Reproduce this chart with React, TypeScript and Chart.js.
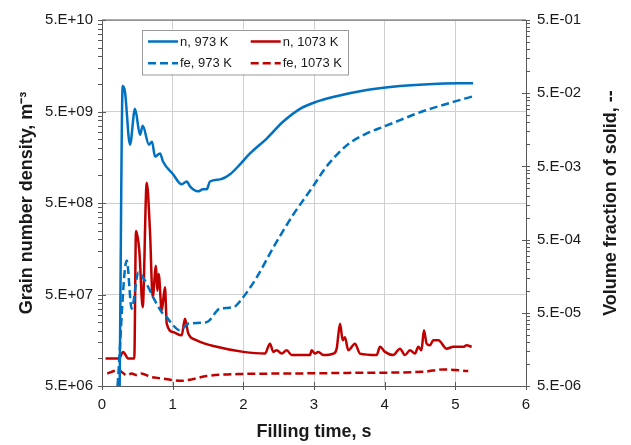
import { useEffect, useRef } from 'react';
import { Chart, registerables } from 'chart.js';

Chart.register(...registerables);

const FONT = "'Liberation Sans', Arial, Helvetica, sans-serif";
const BLUE = '#0070C0';
const RED = '#C00000';
const AXIS = '#595959';
const GRID = '#cfcfcf';
const TEXT = '#1a1a1a';

// ---- tick values ----
const X_TICKS = [0, 1, 2, 3, 4, 5, 6];
const Y_LEFT_TICKS = [5e6, 5e7, 5e8, 5e9, 5e10];
const Y_RIGHT_TICKS = [5e-6, 5e-5, 5e-4, 5e-3, 5e-2, 5e-1];
const MINOR_MULTIPLIERS = [2, 3, 4, 5, 6, 7, 8, 9];
const RIGHT_TITLE = 'Volume fraction of solid, --';

// ---- n, 973 K (grain number density, left axis) ----
const n973Time = [0.25, 0.293, 0.325, 0.396, 0.467, 0.538, 0.576, 0.665, 0.708, 0.75, 0.821, 0.863, 1.005, 1.128, 1.199, 1.245, 1.358, 1.429, 1.482, 1.528, 1.67, 1.811, 1.953, 2.094, 2.331, 2.561, 2.802, 3.038, 3.269, 3.746, 4.217, 4.684, 5.25];
const n973Values = [5.0e6, 9.5e9, 8.2e9, 2.17e9, 5.35e9, 2.79e9, 3.5e9, 2.17e9, 2.34e9, 1.61e9, 1.74e9, 1.42e9, 1.03e9, 8.0e8, 8.6e8, 7.6e8, 6.7e8, 7.06e8, 7.06e8, 8.6e8, 9.06e8, 1.03e9, 1.32e9, 1.74e9, 2.53e9, 3.86e9, 5.35e9, 6.4e9, 7.2e9, 8.6e9, 9.5e9, 1.0e10, 1.02e10];

// ---- fe, 973 K (volume fraction of solid, right axis) ----
const fe973Time = [0.22, 0.35, 0.42, 0.514, 0.608, 0.726, 0.845, 0.916, 0.986, 1.104, 1.221, 1.482, 1.67, 1.858, 1.977, 2.189, 2.424, 2.707, 2.99, 3.15, 3.273, 3.39, 3.509, 3.746, 3.981, 4.217, 4.453, 4.689, 4.971, 5.254];
const fe973Values = [5.0e-6, 2.6e-4, 5.7e-5, 1.78e-4, 1.37e-4, 8.1e-5, 5.1e-5, 4.36e-5, 3.55e-5, 2.88e-5, 3.55e-5, 3.73e-5, 5.7e-5, 5.96e-5, 7.7e-5, 1.52e-4, 3.9e-4, 1.1e-3, 2.7e-3, 4.6e-3, 6.4e-3, 8.4e-3, 1.05e-2, 1.41e-2, 1.74e-2, 2.14e-2, 2.64e-2, 3.15e-2, 3.8e-2, 4.54e-2];

// ---- n, 1073 K (left axis) ----
const n1073Time = [0.05, 0.24, 0.3, 0.37, 0.457, 0.481, 0.528, 0.576, 0.633, 0.679, 0.717, 0.764, 0.783, 0.802, 0.845, 0.891, 0.916, 1.009, 1.128, 1.174, 1.221, 1.34, 1.623, 2.0, 2.306, 2.377, 2.424, 2.472, 2.543, 2.614, 2.684, 2.943, 2.967, 3.014, 3.061, 3.131, 3.273, 3.321, 3.368, 3.406, 3.438, 3.485, 3.58, 3.651, 3.887, 3.934, 4.005, 4.122, 4.217, 4.288, 4.358, 4.429, 4.476, 4.52, 4.556, 4.594, 4.64, 4.689, 4.76, 4.877, 4.971, 5.112, 5.16, 5.231];
const n1073Values = [1.0e7, 1.0e7, 1.18e7, 1.0e7, 1.0e7, 2.47e8, 1.5e8, 3.63e7, 8.3e8, 2.47e8, 4.67e7, 1.03e8, 5.5e7, 8.4e7, 3.34e7, 6.0e7, 2.4e7, 1.94e7, 1.79e7, 2.72e7, 1.87e7, 1.58e7, 1.34e7, 1.18e7, 1.13e7, 1.45e7, 1.18e7, 1.23e7, 1.13e7, 1.23e7, 1.09e7, 1.09e7, 1.23e7, 1.13e7, 1.18e7, 1.09e7, 1.13e7, 1.28e7, 2.4e7, 1.58e7, 1.71e7, 1.23e7, 1.45e7, 1.13e7, 1.09e7, 1.34e7, 1.18e7, 1.09e7, 1.28e7, 1.09e7, 1.23e7, 1.13e7, 1.34e7, 1.23e7, 2.03e7, 1.45e7, 1.39e7, 1.58e7, 1.58e7, 1.28e7, 1.34e7, 1.34e7, 1.39e7, 1.34e7];

// ---- fe, 1073 K (right axis) ----
const fe1073Time = [0.075, 0.231, 0.35, 0.42, 0.491, 0.556, 0.679, 0.845, 0.986, 1.128, 1.27, 1.482, 2.0, 2.66, 3.604, 4.547, 4.83, 5.183];
const fe1073Values = [7.4e-6, 8.2e-6, 7.05e-6, 7.4e-6, 7.05e-6, 7.4e-6, 6.7e-6, 6.35e-6, 6.03e-6, 5.9e-6, 6.16e-6, 6.84e-6, 7.3e-6, 7.4e-6, 7.57e-6, 7.82e-6, 8.43e-6, 8.0e-6];

const DASH = [8, 4];

function fmt(v: number): string {
  const e = Math.round(Math.log10(v / 5));
  return '5.E' + (e < 0 ? '-' : '+') + String(Math.abs(e)).padStart(2, '0');
}

function pts(t: number[], v: number[]) {
  return t.map((x, i) => ({ x, y: v[i] }));
}

const decorPlugin = {
  id: 'decor',
  afterDraw(chart: any) {
    const { ctx, chartArea: ca, scales } = chart;
    ctx.save();
    ctx.strokeStyle = AXIS;
    ctx.lineWidth = 1;
    const line = (x1: number, y1: number, x2: number, y2: number) => {
      ctx.beginPath();
      ctx.moveTo(x1, y1);
      ctx.lineTo(x2, y2);
      ctx.stroke();
    };
    // top border
    line(ca.left, ca.top, ca.right, ca.top);
    // left axis ticks
    const yL = scales.y;
    Y_LEFT_TICKS.forEach((m, i) => {
      const py = Math.round(yL.getPixelForValue(m)) + 0.5;
      line(ca.left - 4, py, ca.left + 4, py);
      if (i < Y_LEFT_TICKS.length - 1) {
        MINOR_MULTIPLIERS.forEach((k) => {
          const p = Math.round(yL.getPixelForValue(m * k)) + 0.5;
          line(ca.left - 4, p, ca.left, p);
        });
      }
    });
    // right axis ticks
    const yR = scales.y2;
    Y_RIGHT_TICKS.forEach((m, i) => {
      const py = Math.round(yR.getPixelForValue(m)) + 0.5;
      line(ca.right - 4, py, ca.right + 4, py);
      if (i < Y_RIGHT_TICKS.length - 1) {
        MINOR_MULTIPLIERS.forEach((k) => {
          const p = Math.round(yR.getPixelForValue(m * k)) + 0.5;
          line(ca.right, p, ca.right + 4, p);
        });
      }
    });
    // x axis ticks
    const xs = scales.x;
    X_TICKS.forEach((v) => {
      const px = Math.round(xs.getPixelForValue(v)) + 0.5;
      line(px, ca.bottom - 4, px, ca.bottom + 4);
    });

    // right axis title (reads bottom-to-top)
    ctx.save();
    ctx.translate(yR.right - 19.5, (ca.top + ca.bottom) / 2);
    ctx.rotate(-Math.PI / 2);
    ctx.font = `bold 18px ${FONT}`;
    ctx.fillStyle = TEXT;
    ctx.textAlign = 'center';
    ctx.textBaseline = 'middle';
    ctx.fillText(RIGHT_TITLE, 0, 0);
    ctx.restore();

    // legend box
    const lx = ca.left + 40;
    const ly = ca.top + 9.5;
    const lw = 206;
    const lh = 44.5;
    ctx.fillStyle = '#ffffff';
    ctx.fillRect(lx, ly, lw, lh);
    ctx.strokeStyle = '#9a9a9a';
    ctx.lineWidth = 1;
    ctx.strokeRect(Math.round(lx) + 0.5, Math.round(ly) + 0.5, lw, lh);
    const colX = [6, 108.7];
    const rowY = [12, 33.7];
    ctx.font = `13px ${FONT}`;
    ctx.textBaseline = 'middle';
    ctx.textAlign = 'left';
    chart.data.datasets.forEach((ds: any, i: number) => {
      const col = Math.floor(i / 2);
      const row = i % 2;
      const x0 = lx + colX[col];
      const y0 = ly + rowY[row];
      ctx.save();
      ctx.strokeStyle = ds.borderColor;
      ctx.lineWidth = 2.5;
      ctx.setLineDash(ds.borderDash || []);
      ctx.beginPath();
      ctx.moveTo(x0, y0);
      ctx.lineTo(x0 + 30, y0);
      ctx.stroke();
      ctx.restore();
      ctx.fillStyle = TEXT;
      ctx.fillText(ds.label, x0 + 32, y0 + 0.5);
    });
    ctx.restore();
  },
};

export default function App() {
  const ref = useRef<HTMLCanvasElement | null>(null);
  useEffect(() => {
    if (!ref.current) return;
    const tickFont = { family: FONT, size: 15 };
    const titleFont = { family: FONT, size: 18, weight: 'bold' as const };
    const chart = new Chart(ref.current, {
      type: 'line',
      data: {
        datasets: [
          { label: 'n, 973 K', data: pts(n973Time, n973Values), borderColor: BLUE, borderWidth: 2.5, pointRadius: 0, yAxisID: 'y', cubicInterpolationMode: 'monotone', fill: false },
          { label: 'fe, 973 K', data: pts(fe973Time, fe973Values), borderColor: BLUE, borderWidth: 2.5, borderDash: DASH, pointRadius: 0, yAxisID: 'y2', cubicInterpolationMode: 'monotone', fill: false },
          { label: 'n, 1073 K', data: pts(n1073Time, n1073Values), borderColor: RED, borderWidth: 2.5, pointRadius: 0, yAxisID: 'y', cubicInterpolationMode: 'monotone', fill: false },
          { label: 'fe, 1073 K', data: pts(fe1073Time, fe1073Values), borderColor: RED, borderWidth: 2.5, borderDash: DASH, pointRadius: 0, yAxisID: 'y2', cubicInterpolationMode: 'monotone', fill: false },
        ],
      },
      options: {
        responsive: false,
        animation: false,
        layout: { padding: { top: 17.5, left: 0, right: 0, bottom: 0 } },
        plugins: { legend: { display: false }, tooltip: { enabled: false } },
        scales: {
          x: {
            type: 'linear',
            min: 0,
            max: 6,
            afterBuildTicks: (s: any) => { s.ticks = X_TICKS.map((v) => ({ value: v })); },
            afterFit: (s: any) => { s.height = 59; },
            ticks: { font: tickFont, color: TEXT, padding: 10, maxRotation: 0, callback: (v: any) => String(v) },
            grid: { color: GRID, drawTicks: false },
            border: { color: AXIS, width: 1 },
            title: { display: true, text: 'Filling time, s', font: titleFont, color: TEXT, padding: { top: 0, bottom: 2.5 } },
          },
          y: {
            type: 'logarithmic',
            position: 'left',
            min: 5e6,
            max: 5e10,
            afterBuildTicks: (s: any) => { s.ticks = Y_LEFT_TICKS.map((v) => ({ value: v })); },
            afterFit: (s: any) => { s.width = 102; },
            ticks: { font: tickFont, color: TEXT, padding: 9, callback: (v: any) => fmt(Number(v)) },
            grid: { color: GRID, drawTicks: false },
            border: { color: AXIS, width: 1 },
            title: { display: true, text: 'Grain number density, m⁻³', font: titleFont, color: TEXT, padding: { top: 16, bottom: 0 } },
          },
          y2: {
            type: 'logarithmic',
            position: 'right',
            min: 5e-6,
            max: 5e-1,
            afterBuildTicks: (s: any) => { s.ticks = Y_RIGHT_TICKS.map((v) => ({ value: v })); },
            afterFit: (s: any) => { s.width = 105; },
            ticks: { font: tickFont, color: TEXT, padding: 11, callback: (v: any) => fmt(Number(v)) },
            grid: { drawOnChartArea: false, drawTicks: false },
            border: { color: AXIS, width: 1 },
            title: { display: false },
          },
        },
      },
      plugins: [decorPlugin],
    } as any);
    return () => chart.destroy();
  }, []);
  return (
    <canvas
      ref={ref}
      width={631}
      height={445}
      style={{ position: 'absolute', left: 0, top: 0, display: 'block' }}
    />
  );
}
